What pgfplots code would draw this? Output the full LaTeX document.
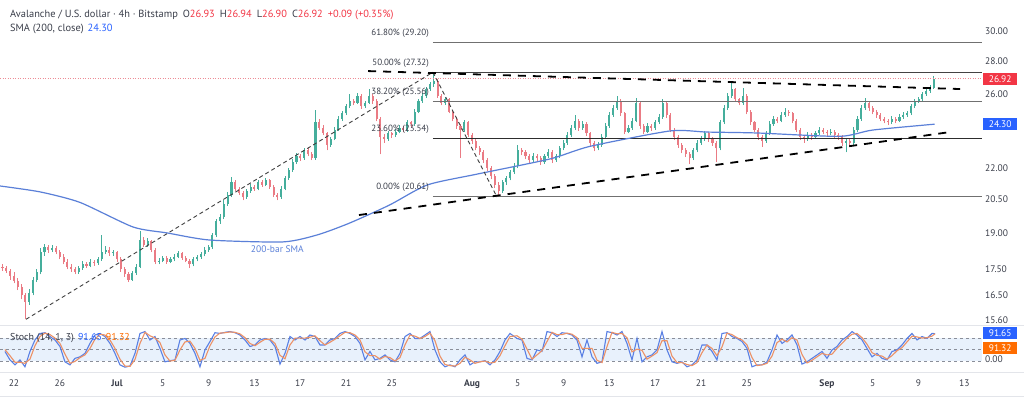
\documentclass[border=0pt]{standalone}
\usepackage{pgfplots}
\pgfplotsset{compat=1.18}
\usepackage{pgfplotstable}
\usepackage{fontspec}
\setmainfont{PT Sans}
\definecolor{upc}{HTML}{45AE9C}
\definecolor{dnc}{HTML}{EA7B84}
\definecolor{smab}{HTML}{5B80D8}
\definecolor{tvblue}{HTML}{2962FF}
\definecolor{tvred}{HTML}{F23645}
\definecolor{tvorange}{HTML}{FF6D00}
\definecolor{txt}{HTML}{3A3E4A}
\definecolor{fibc}{HTML}{707070}
\definecolor{band}{HTML}{E8F1FC}
\definecolor{kblue}{HTML}{5A80E4}
\definecolor{dorange}{HTML}{EC9166}
\definecolor{gridc}{HTML}{8A8E99}
\definecolor{sepc}{HTML}{E3E5EA}
\definecolor{dotc}{HTML}{EE8C96}

\pgfplotstableread{
d o h l c
-1.00 17.60 17.72 17.45 17.55
-0.67 17.55 17.65 17.35 17.45
-0.33 17.45 17.52 17.10 17.25
0.00 17.25 17.38 16.95 17.05
0.33 17.05 17.15 16.70 16.80
0.67 16.80 16.92 16.35 16.50
1.00 16.50 16.60 15.63 16.25
1.33 16.25 16.75 16.15 16.60
1.67 16.60 17.20 16.50 17.10
2.00 17.10 17.50 17.00 17.40
2.33 17.40 18.35 17.30 18.20
2.67 18.20 18.55 18.05 18.40
3.00 18.40 18.50 18.15 18.30
3.33 18.30 18.48 18.20 18.35
3.67 18.35 18.45 18.10 18.20
4.00 18.20 18.30 17.90 18.00
4.33 18.00 18.10 17.70 17.80
4.67 17.80 17.90 17.50 17.60
5.00 17.60 17.70 17.40 17.50
5.33 17.50 17.60 17.30 17.40
5.67 17.40 17.65 17.32 17.55
6.00 17.55 17.82 17.48 17.70
6.33 17.70 17.80 17.55 17.65
6.67 17.65 17.90 17.58 17.80
7.00 17.80 17.88 17.65 17.75
7.33 17.75 18.00 17.68 17.90
7.67 17.90 18.90 17.85 18.20
8.00 18.20 18.45 18.10 18.30
8.33 18.30 18.40 18.05 18.15
8.67 18.15 18.30 18.05 18.20
9.00 18.20 18.25 17.80 17.90
9.33 17.90 17.98 17.40 17.50
9.67 17.50 17.60 17.20 17.30
10.00 17.30 17.40 17.00 17.10
10.33 17.10 17.45 17.05 17.35
10.67 17.35 17.70 17.28 17.60
11.00 17.60 19.10 17.55 18.70
11.33 18.70 18.85 18.40 18.50
11.67 18.50 18.78 18.42 18.65
12.00 18.65 18.72 18.20 18.30
12.33 18.30 18.38 17.70 17.80
12.67 17.80 17.95 17.70 17.85
13.00 17.85 18.05 17.78 17.95
13.33 17.95 18.02 17.72 17.80
13.67 17.80 17.98 17.74 17.90
14.00 17.90 18.10 17.82 18.00
14.33 18.00 18.25 17.95 18.15
14.67 18.15 18.20 17.88 17.95
15.00 17.95 18.02 17.78 17.85
15.33 17.85 17.92 17.55 17.70
15.67 17.70 17.98 17.62 17.90
16.00 17.90 18.08 17.82 18.00
16.33 18.00 18.18 17.92 18.10
16.67 18.10 18.40 18.02 18.30
17.00 18.30 18.50 18.22 18.40
17.33 18.40 19.00 18.32 18.90
17.67 18.90 19.60 18.82 19.50
18.00 19.50 19.85 19.40 19.70
18.33 19.70 20.45 19.60 20.30
18.67 20.30 20.85 20.20 20.70
19.00 20.70 21.55 20.60 21.30
19.33 21.30 21.40 20.88 21.00
19.67 21.00 21.10 20.70 20.80
20.00 20.80 20.90 20.45 20.60
20.33 20.60 21.00 20.52 20.90
20.67 20.90 21.22 20.82 21.10
21.00 21.10 21.18 20.90 21.00
21.33 21.00 21.42 20.92 21.30
21.67 21.30 21.40 21.10 21.20
22.00 21.20 21.52 21.12 21.40
22.33 21.40 21.48 21.00 21.10
22.67 21.10 21.18 20.60 20.70
23.00 20.70 20.80 20.45 20.60
23.33 20.60 21.12 20.52 21.00
23.67 21.00 21.62 20.92 21.50
24.00 21.50 22.02 21.42 21.90
24.33 21.90 22.45 21.82 22.30
24.67 22.30 22.75 22.20 22.60
25.00 22.60 22.72 22.38 22.50
25.33 22.50 23.05 22.42 22.90
25.67 22.90 23.00 22.60 22.70
26.00 22.70 22.80 22.40 22.50
26.33 22.50 25.10 22.42 24.40
26.67 24.40 24.60 24.00 24.10
27.00 24.10 24.25 23.70 23.80
27.33 23.80 23.90 22.90 23.20
27.67 23.20 23.62 23.10 23.50
28.00 23.50 24.12 23.42 24.00
28.33 24.00 24.75 23.92 24.60
28.67 24.60 25.05 24.50 24.90
29.00 24.90 25.45 24.80 25.30
29.33 25.30 26.00 25.20 25.60
29.67 25.60 25.72 25.35 25.50
30.00 25.50 26.05 25.42 25.90
30.33 25.90 26.00 25.15 25.30
30.67 25.30 25.62 25.20 25.50
31.00 25.50 26.30 25.42 25.90
31.33 25.90 26.00 25.45 25.60
31.67 25.60 25.70 24.45 24.60
32.00 24.60 24.70 22.70 23.60
32.33 23.60 23.75 23.30 23.50
32.67 23.50 23.95 23.40 23.80
33.00 23.80 23.90 23.55 23.70
33.33 23.70 24.05 23.60 23.90
33.67 23.90 24.25 23.80 24.10
34.00 24.10 24.20 23.85 24.00
34.33 24.00 24.55 23.90 24.40
34.67 24.40 24.50 24.15 24.30
35.00 24.30 25.15 24.22 25.00
35.33 25.00 25.75 24.90 25.60
35.67 25.60 26.05 25.50 25.90
36.00 25.90 26.45 25.80 26.30
36.33 26.30 26.75 26.20 26.60
36.67 26.60 27.33 26.45 26.80
37.00 26.80 26.90 25.80 25.90
37.33 25.90 26.00 25.35 25.50
37.67 25.50 25.85 25.40 25.70
38.00 25.70 25.80 24.90 25.00
38.33 25.00 25.10 24.45 24.60
38.67 24.60 24.70 24.05 24.20
39.00 24.20 24.30 22.50 24.00
39.33 24.00 24.55 23.90 24.40
39.67 24.40 24.50 23.60 23.70
40.00 23.70 23.80 23.25 23.40
40.33 23.40 23.50 22.90 23.00
40.67 23.00 23.12 22.65 22.80
41.00 22.80 22.90 22.25 22.40
41.33 22.40 22.50 21.85 22.00
41.67 22.00 22.10 21.45 21.60
42.00 21.60 21.70 21.05 21.20
42.33 21.20 21.30 20.61 20.90
42.67 20.90 21.42 20.82 21.30
43.00 21.30 21.62 21.20 21.50
43.33 21.50 21.92 21.40 21.80
43.67 21.80 22.25 21.70 22.10
44.00 22.10 23.20 22.00 22.90
44.33 22.90 23.00 22.65 22.80
44.67 22.80 22.90 22.45 22.60
45.00 22.60 22.70 22.25 22.40
45.33 22.40 22.75 22.30 22.60
45.67 22.60 22.70 22.38 22.50
46.00 22.50 22.60 22.15 22.30
46.33 22.30 22.72 22.22 22.60
46.67 22.60 22.95 22.50 22.80
47.00 22.80 22.90 22.25 22.40
47.33 22.40 22.72 22.32 22.60
47.67 22.60 23.12 22.50 23.00
48.00 23.00 23.45 22.90 23.30
48.33 23.30 23.85 23.20 23.70
48.67 23.70 24.25 23.60 24.10
49.00 24.10 24.80 24.00 24.50
49.33 24.50 24.60 23.95 24.10
49.67 24.10 24.45 24.00 24.30
50.00 24.30 24.40 23.65 23.80
50.33 23.80 23.90 23.15 23.30
50.67 23.30 23.40 22.85 23.00
51.00 23.00 23.32 22.90 23.20
51.33 23.20 23.75 23.10 23.60
51.67 23.60 24.35 23.50 24.20
52.00 24.20 24.95 24.10 24.80
52.33 24.80 25.35 24.70 25.20
52.67 25.20 25.90 25.10 25.60
53.00 25.60 25.70 24.75 24.90
53.33 24.90 25.00 23.75 23.90
53.67 23.90 24.25 23.80 24.10
54.00 24.10 24.65 24.00 24.50
54.33 24.50 25.80 24.40 25.50
54.67 25.50 25.60 24.05 24.20
55.00 24.20 24.30 23.75 23.90
55.33 23.90 24.35 23.80 24.20
55.67 24.20 24.30 23.95 24.10
56.00 24.10 24.55 24.00 24.40
56.33 24.40 24.85 24.30 24.70
56.67 24.70 25.70 24.60 25.50
57.00 25.50 25.60 24.65 24.80
57.33 24.80 24.90 23.85 24.00
57.67 24.00 24.10 23.45 23.60
58.00 23.60 23.70 23.05 23.20
58.33 23.20 23.30 22.75 22.90
58.67 22.90 23.00 22.55 22.70
59.00 22.70 22.80 22.20 22.50
59.33 22.50 23.05 22.40 22.90
59.67 22.90 23.45 22.80 23.30
60.00 23.30 23.65 23.20 23.50
60.33 23.50 23.95 23.40 23.80
60.67 23.80 23.90 23.35 23.50
61.00 23.50 23.60 23.15 23.30
61.33 23.30 23.40 22.30 23.00
61.67 23.00 24.55 22.90 24.40
62.00 24.40 25.35 24.30 25.20
62.33 25.20 26.05 25.10 25.90
62.67 25.90 26.70 25.80 26.30
63.00 26.30 26.40 25.55 25.70
63.33 25.70 25.80 25.35 25.50
63.67 25.50 26.40 25.40 25.90
64.00 25.90 26.00 24.85 25.00
64.33 25.00 25.10 24.25 24.40
64.67 24.40 24.50 23.85 24.00
65.00 24.00 24.10 23.45 23.60
65.33 23.60 23.70 23.10 23.40
65.67 23.40 23.95 23.30 23.80
66.00 23.80 24.45 23.70 24.30
66.33 24.30 24.75 24.20 24.60
66.67 24.60 24.70 24.35 24.50
67.00 24.50 24.95 24.40 24.80
67.33 24.80 25.20 24.70 25.00
67.67 25.00 25.10 24.75 24.90
68.00 24.90 25.00 24.35 24.50
68.33 24.50 24.60 23.85 24.00
68.67 24.00 24.10 23.45 23.60
69.00 23.60 23.70 23.30 23.50
69.33 23.50 23.85 23.40 23.70
69.67 23.70 23.80 23.45 23.60
70.00 23.60 23.95 23.50 23.80
70.33 23.80 24.15 23.70 24.00
70.67 24.00 24.10 23.75 23.90
71.00 23.90 24.00 23.65 23.80
71.33 23.80 24.05 23.70 23.90
71.67 23.90 24.00 23.55 23.70
72.00 23.70 23.80 23.45 23.60
72.33 23.60 23.70 23.15 23.30
72.67 23.30 23.55 22.80 23.40
73.00 23.40 23.50 23.15 23.30
73.33 23.30 24.15 23.20 24.00
73.67 24.00 24.75 23.90 24.60
74.00 24.60 25.35 24.50 25.20
74.33 25.20 25.80 25.10 25.50
74.67 25.50 25.60 25.05 25.20
75.00 25.20 25.30 24.85 25.00
75.33 25.00 25.10 24.65 24.80
75.67 24.80 24.90 24.45 24.60
76.00 24.60 24.70 24.35 24.50
76.33 24.50 24.60 24.25 24.40
76.67 24.40 24.75 24.30 24.60
77.00 24.60 24.70 24.35 24.50
77.33 24.50 24.85 24.40 24.70
77.67 24.70 24.95 24.60 24.80
78.00 24.80 25.05 24.70 24.90
78.33 24.90 25.45 24.80 25.30
78.67 25.30 25.75 25.20 25.60
79.00 25.60 25.85 25.50 25.70
79.33 25.70 26.15 25.60 26.00
79.67 26.00 26.35 25.90 26.20
80.00 26.20 26.55 26.10 26.40
80.33 26.40 27.10 26.30 26.92
}\candles

\pgfplotstableread{
x k dd
5 45 50
10 23 34
15 10 17
20 23 17
25 5 14
30 45 25
35 75 60
40 92 84
45 94 93
50 84 89
55 75 80
60 58 66
65 18 38
70 10 14
75 27 19
80 31 29
85 40 36
90 66 53
95 88 77
100 92 90
105 84 88
110 66 75
115 40 53
120 10 25
125 4 7
130 7 6
135 40 24
140 92 66
145 97 95
150 75 86
155 84 80
160 53 68
165 18 36
170 21 20
175 23 22
180 75 49
185 79 70
190 66 72
195 40 53
200 5 22
205 49 27
210 71 60
215 94 83
220 92 93
225 95 94
230 97 96
235 94 95
240 88 91
245 75 81
250 58 66
255 62 60
260 75 69
265 79 77
270 75 77
275 58 66
280 12 35
285 40 26
290 84 62
295 75 80
300 84 80
305 75 80
310 88 82
315 84 86
320 62 73
325 62 62
330 75 69
335 79 77
340 92 86
345 97 95
350 92 94
355 84 88
360 66 75
365 23 44
370 45 34
375 23 34
380 27 25
385 36 32
390 23 29
395 18 20
400 40 29
405 84 62
410 92 88
415 79 85
420 79 79
425 88 84
430 97 93
435 49 73
440 18 33
445 5 11
450 10 8
455 5 7
460 23 14
465 36 30
470 10 23
475 18 14
480 18 18
485 21 20
490 10 15
495 23 17
500 45 34
505 75 60
510 92 84
517 79 86
522 75 77
527 27 51
532 23 25
537 49 36
542 45 47
547 97 71
552 94 95
557 84 89
562 94 89
567 92 93
572 88 90
577 75 81
582 31 53
587 75 53
592 31 53
597 14 22
602 18 16
607 97 58
612 94 95
617 88 91
622 97 92
627 66 81
632 23 44
637 79 51
642 18 48
647 31 25
652 36 33
657 49 42
662 97 73
667 49 73
672 18 33
677 14 16
682 18 16
687 5 11
692 10 8
697 23 16
702 62 42
707 62 62
712 45 53
717 23 34
722 92 57
727 94 93
732 84 89
737 79 81
742 71 75
747 53 62
752 5 29
757 10 8
762 10 10
767 18 14
772 49 33
777 88 68
782 66 77
787 75 70
792 88 81
797 62 75
802 12 37
807 18 15
812 27 22
817 36 31
822 45 40
827 27 36
832 49 38
837 58 53
842 75 66
847 84 80
852 97 90
857 88 92
862 75 81
867 53 64
872 31 42
877 40 35
882 27 33
887 23 25
892 45 34
897 49 47
902 62 55
907 79 70
912 92 85
917 75 83
922 84 80
927 79 81
932 92 85
935 91.65 91.32
}\stoch

\begin{document}
\begin{tikzpicture}
\path[use as bounding box, fill=white] (0pt,0pt) rectangle (1024pt,397pt);
\draw[sepc, line width=1pt] (0pt,71.5pt) -- (1024pt,71.5pt);
\draw[sepc, line width=1pt] (0pt,24.5pt) -- (1024pt,24.5pt);
\draw[sepc, line width=1pt] (0pt,1pt) -- (1024pt,1pt);

\begin{axis}[at={(0pt,72pt)}, anchor=south west, scale only axis,
  width=982pt, height=325pt,
  xmin=-1.22, xmax=84.54, ymode=log, ymin=15.43, ymax=32.18,
  axis line style={draw=none}, xtick=\empty,
  ytick={15.6,16.5,17.5,19,20.5,22,26,28,30},
  yticklabels={15.60,16.50,17.50,19.00,20.50,22.00,26.00,28.00,30.00},
  yticklabel pos=right, major tick length=0pt,
  yticklabel style={font=\fontsize{9.5}{10}\selectfont, text=txt, anchor=west, inner sep=0pt, xshift=3pt},
  clip=false]
% wicks
\addplot[draw=none, mark=none, forget plot, x filter/.expression={\thisrow{c}>=\thisrow{o} ? x : nan},
  error bars/.cd, y dir=plus, y explicit, error mark=none,
  error bar style={line width=0.8pt, draw=upc}]
  table[x=d, y=l, y error expr=\thisrow{h}-\thisrow{l}] {\candles};
\addplot[draw=none, mark=none, forget plot, x filter/.expression={\thisrow{c}<\thisrow{o} ? x : nan},
  error bars/.cd, y dir=plus, y explicit, error mark=none,
  error bar style={line width=0.8pt, draw=dnc}]
  table[x=d, y=l, y error expr=\thisrow{h}-\thisrow{l}] {\candles};
% bodies
\addplot[draw=none, mark=none, forget plot, x filter/.expression={\thisrow{c}>=\thisrow{o} ? x : nan},
  error bars/.cd, y dir=plus, y explicit, error mark=none,
  error bar style={line width=2.1pt, line cap=butt, draw=upc}]
  table[x=d, y=o, y error expr={max(\thisrow{c}-\thisrow{o},0.04)}] {\candles};
\addplot[draw=none, mark=none, forget plot, x filter/.expression={\thisrow{c}<\thisrow{o} ? x : nan},
  error bars/.cd, y dir=plus, y explicit, error mark=none,
  error bar style={line width=2.1pt, line cap=butt, draw=dnc}]
  table[x=d, y=c, y error expr={max(\thisrow{o}-\thisrow{c},0.04)}] {\candles};

% last price dotted
\addplot[dotc, line width=0.8pt, dash pattern=on 1pt off 1.5pt] coordinates {(-1.22,26.92) (84.54,26.92)};
% fib levels
\addplot[fibc, line width=1pt] coordinates {(36.59,29.20) (84.54,29.20)};
\addplot[fibc!60!black, line width=1pt] coordinates {(36.59,27.32) (84.54,27.32)};
\addplot[fibc, line width=1pt] coordinates {(36.59,25.56) (84.54,25.56)};
\addplot[fibc!40!black, line width=1pt] coordinates {(36.59,23.54) (84.54,23.54)};
\addplot[fibc, line width=1pt] coordinates {(36.59,20.61) (84.54,20.61)};
% SMA 200
\addplot[smab, line width=1.2pt, smooth, tension=0.4] coordinates {
(-1.22,21.13) (2.27,20.85) (5.76,20.36) (10.4,19.26) (13.4,19.00) (17.1,18.70)
(23.5,18.62) (26.5,18.92) (29.3,19.43) (32.8,20.24) (36.1,21.18) (40.4,21.70)
(46.8,22.46) (50.3,23.11) (57.3,23.93) (60.5,23.87) (64.9,23.82) (72.1,23.64)
(75.0,23.98) (80.4,24.30)};
% thin dashed trendlines
\addplot[black!75, line width=0.9pt, dash pattern=on 4pt off 3pt] coordinates {(1.05,15.63) (36.59,27.33)};
\addplot[black!75, line width=0.9pt, dash pattern=on 4pt off 3pt] coordinates {(36.59,27.33) (42.18,20.61)};
% thick dashed trendlines
\addplot[black, line width=1.8pt, dash pattern=on 8pt off 7pt] coordinates {(30.92,27.40) (82.62,26.31)};
\addplot[black, line width=1.8pt, dash pattern=on 8pt off 7pt] coordinates {(30.13,19.79) (81.75,23.87)};

% fib labels
\begin{scope}[every node/.style={anchor=south east, font=\fontsize{9}{10}\selectfont, text=txt, inner sep=0pt, yshift=5pt}]
\node at (axis cs:36.25,29.20) {61.80\% (29.20)};
\node at (axis cs:36.25,27.32) {50.00\% (27.32)};
\node at (axis cs:36.25,25.56) {38.20\% (25.56)};
\node at (axis cs:36.25,23.54) {23.60\% (23.54)};
\node at (axis cs:36.25,20.61) {0.00\% (20.61)};
\end{scope}
\node[text=smab, font=\fontsize{9.5}{10}\selectfont] at (axis cs:23.0,18.32) {200-bar SMA};

% price boxes
\node[fill=tvred, text=white, anchor=west, minimum width=34pt, minimum height=12pt, inner sep=0pt, font=\fontsize{9.5}{10}\selectfont]
  at ({axis description cs:1,0} |- {axis cs:0,26.92}) [xshift=1pt] {26.92};
\node[fill=tvblue, text=white, anchor=west, minimum width=34pt, minimum height=12pt, inner sep=0pt, font=\fontsize{9.5}{10}\selectfont]
  at ({axis description cs:1,0} |- {axis cs:0,24.30}) [xshift=1pt] {24.30};
\end{axis}

\begin{axis}[at={(0pt,25pt)}, anchor=south west, scale only axis,
  width=982pt, height=46pt,
  xmin=-1.22, xmax=84.54, ymin=-8.6, ymax=111.5,
  axis line style={draw=none}, ytick=\empty,
  xtick={0,4,9,13,17,21,25,29,33,40,44,48,52,56,60,64,71,75,79,83},
  xticklabels={22,26,\textbf{Jul},5,9,13,17,21,25,\textbf{Aug},5,9,13,17,21,25,\textbf{Sep},5,9,13},
  major tick length=0pt,
  xticklabel style={font=\fontsize{9.5}{10}\selectfont, text=txt, yshift=-4pt},
  clip=false]
\addplot[draw=none, fill=band, forget plot] coordinates {(-1.22,20) (84.54,20) (84.54,80) (-1.22,80)} -- cycle;
\addplot[gridc, line width=0.7pt, dash pattern=on 3pt off 3pt] coordinates {(-1.22,80) (84.54,80)};
\addplot[gridc, line width=0.7pt, dash pattern=on 3pt off 3pt] coordinates {(-1.22,50) (84.54,50)};
\addplot[gridc, line width=0.7pt, dash pattern=on 3pt off 3pt] coordinates {(-1.22,20) (84.54,20)};
\addplot[kblue, line width=1.1pt] table[x expr=(\thisrow{x}-14)/11.45, y=k] {\stoch};
\addplot[dorange, line width=1.1pt] table[x expr=(\thisrow{x}-14)/11.45, y=dd] {\stoch};
\node[fill=tvblue, text=white, anchor=west, minimum width=34pt, minimum height=12pt, inner sep=0pt, font=\fontsize{9.5}{10}\selectfont]
  at ({axis description cs:1,0} |- {axis cs:0,93.2}) [xshift=1pt] {91.65};
\node[fill=tvorange, text=white, anchor=west, minimum width=34pt, minimum height=12pt, inner sep=0pt, font=\fontsize{9.5}{10}\selectfont]
  at ({axis description cs:1,0} |- {axis cs:0,54}) [xshift=1pt] {91.32};
\node[text=txt, anchor=west, inner sep=0pt, font=\fontsize{9.5}{10}\selectfont]
  at ({axis description cs:1,0} |- {axis cs:0,25}) [xshift=3pt] {0.00};
\end{axis}

% header
\node[anchor=west, inner sep=0pt, text=txt, font=\fontsize{10.4}{12}\selectfont] at (10pt,382pt)
 {Avalanche / U.S. dollar · 4h · Bitstamp\hspace{5pt}O\textcolor{tvred}{26.93}\hspace{5pt}H\textcolor{tvred}{26.94}\hspace{5pt}L\textcolor{tvred}{26.90}\hspace{5pt}C\textcolor{tvred}{26.92}\hspace{5pt}\textcolor{tvred}{+0.09 (+0.35\%)}};
\node[anchor=west, inner sep=0pt, text=txt, font=\fontsize{10.4}{12}\selectfont] at (10pt,368pt)
 {SMA (200, close)\hspace{4pt}\textcolor{tvblue}{24.30}};
\node[anchor=west, inner sep=0pt, text=txt, font=\fontsize{10}{12}\selectfont] at (10pt,59pt)
 {Stoch (14, 1, 3)\hspace{4pt}\textcolor{tvblue}{91.65}\hspace{4pt}\textcolor{tvorange}{91.32}};
\end{tikzpicture}
\end{document}
